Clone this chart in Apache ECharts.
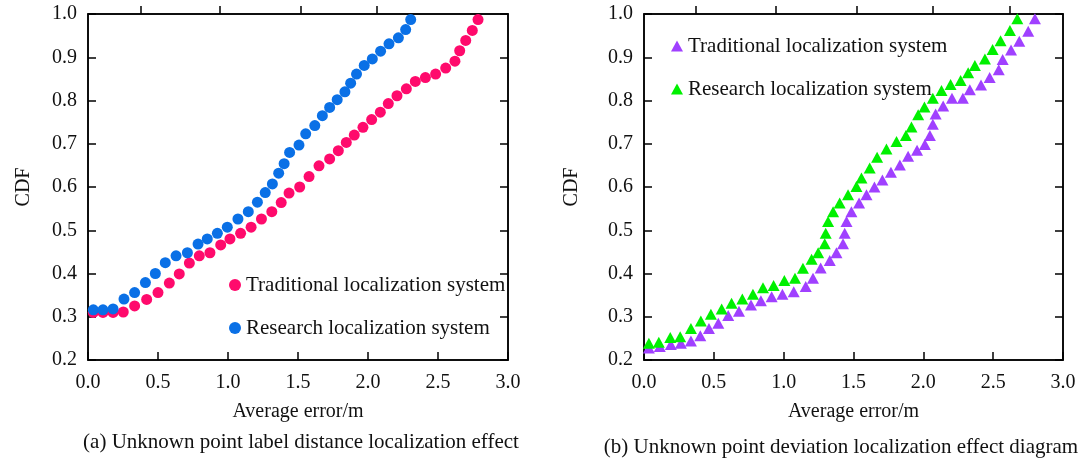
<!DOCTYPE html>
<html><head><meta charset="utf-8">
<script src="https://cdn.jsdelivr.net/npm/echarts@6/dist/echarts.min.js"></script>
<style>html,body{margin:0;padding:0;background:#fff}#c{width:1081px;height:461px}</style>
</head><body><div id="c"></div>
<script>
const xTickLabels = ['0.0','0.5','1.0','1.5','2.0','2.5','3.0'];
const yTickLabels = ['0.2','0.3','0.4','0.5','0.6','0.7','0.8','0.9','1.0'];
const seriesNames = ['Traditional localization system','Research localization system'];
const captions = ['(a) Unknown point label distance localization effect','(b) Unknown point deviation localization effect diagram'];
const xAxisTitle = 'Average error/m';
const yAxisTitle = 'CDF';
const topTicksA = [0.379,0.943,1.521,2.062];
const topTicksB = [0.374,0.941,1.522,2.065,2.617];

const traditionalA = [[0.038,0.31],[0.107,0.31],[0.179,0.31],[0.252,0.311],[0.333,0.325],[0.419,0.34],[0.5,0.356],[0.581,0.378],[0.652,0.399],[0.724,0.424],[0.795,0.441],[0.871,0.448],[0.948,0.466],[1.014,0.48],[1.09,0.493],[1.165,0.507],[1.239,0.526],[1.313,0.543],[1.38,0.564],[1.436,0.586],[1.512,0.6],[1.579,0.624],[1.65,0.649],[1.726,0.665],[1.788,0.684],[1.845,0.703],[1.902,0.72],[1.964,0.738],[2.026,0.756],[2.088,0.773],[2.145,0.793],[2.207,0.811],[2.274,0.827],[2.338,0.844],[2.41,0.853],[2.483,0.861],[2.555,0.875],[2.621,0.891],[2.655,0.915],[2.698,0.939],[2.745,0.962],[2.786,0.987]];
const researchA = [[0.038,0.316],[0.107,0.316],[0.179,0.318],[0.257,0.341],[0.333,0.356],[0.41,0.379],[0.481,0.4],[0.552,0.425],[0.629,0.441],[0.71,0.448],[0.786,0.468],[0.852,0.48],[0.924,0.493],[0.995,0.507],[1.071,0.526],[1.145,0.543],[1.21,0.565],[1.266,0.587],[1.317,0.607],[1.362,0.632],[1.401,0.654],[1.44,0.68],[1.507,0.697],[1.555,0.723],[1.62,0.742],[1.674,0.765],[1.726,0.784],[1.78,0.802],[1.835,0.82],[1.876,0.84],[1.918,0.861],[1.973,0.881],[2.031,0.896],[2.09,0.914],[2.15,0.931],[2.217,0.945],[2.269,0.964],[2.305,0.987]];
const traditionalB = [[0.035,0.228],[0.113,0.231],[0.192,0.236],[0.264,0.239],[0.336,0.244],[0.403,0.256],[0.465,0.273],[0.532,0.285],[0.603,0.303],[0.68,0.313],[0.766,0.327],[0.837,0.337],[0.914,0.346],[0.991,0.352],[1.072,0.358],[1.158,0.37],[1.21,0.389],[1.265,0.413],[1.33,0.43],[1.378,0.448],[1.425,0.469],[1.437,0.493],[1.45,0.52],[1.485,0.543],[1.54,0.563],[1.593,0.582],[1.65,0.6],[1.707,0.616],[1.768,0.634],[1.832,0.651],[1.891,0.671],[1.955,0.685],[2.011,0.698],[2.047,0.719],[2.068,0.745],[2.088,0.769],[2.142,0.787],[2.205,0.805],[2.283,0.805],[2.333,0.825],[2.413,0.836],[2.475,0.853],[2.54,0.871],[2.568,0.895],[2.628,0.917],[2.687,0.937],[2.751,0.96],[2.799,0.989]];
const researchB = [[0.035,0.239],[0.106,0.241],[0.188,0.252],[0.259,0.254],[0.336,0.273],[0.407,0.29],[0.479,0.306],[0.556,0.318],[0.627,0.331],[0.704,0.341],[0.78,0.352],[0.852,0.367],[0.928,0.372],[1.005,0.384],[1.081,0.389],[1.138,0.412],[1.2,0.433],[1.247,0.448],[1.294,0.469],[1.301,0.493],[1.318,0.52],[1.354,0.543],[1.401,0.563],[1.461,0.582],[1.521,0.601],[1.557,0.621],[1.616,0.644],[1.669,0.669],[1.736,0.688],[1.808,0.705],[1.875,0.719],[1.915,0.739],[1.963,0.767],[2.008,0.785],[2.068,0.805],[2.13,0.823],[2.195,0.837],[2.267,0.846],[2.321,0.864],[2.369,0.881],[2.441,0.896],[2.496,0.918],[2.553,0.938],[2.62,0.962],[2.673,0.989]];

const FONT = '"Liberation Serif","Times New Roman",serif';
const TXT = '#111';
const AXC = '#000', AXW = 1.5;
const xMin = +xTickLabels[0], xMax = +xTickLabels[xTickLabels.length-1];
const xStep = Number((+xTickLabels[1] - +xTickLabels[0]).toFixed(3));
const yMin = +yTickLabels[0], yMax = +yTickLabels[yTickLabels.length-1];
const yStep = Number((+yTickLabels[1] - +yTickLabels[0]).toFixed(3));
const ls = () => ({color:AXC, width:AXW});

function bottomX(gi){
  return {type:'value', gridIndex:gi, position:'bottom', min:xMin, max:xMax, interval:xStep,
    name:xAxisTitle, nameLocation:'middle', nameGap:42,
    nameTextStyle:{fontFamily:FONT, fontSize:20, color:TXT},
    axisLine:{show:true, onZero:false, lineStyle:ls()},
    axisTick:{show:true, inside:true, length:8, lineStyle:ls()},
    axisLabel:{show:true, margin:13, fontFamily:FONT, fontSize:20, color:TXT, formatter:v=>v.toFixed(1)},
    splitLine:{show:false}};
}
function topX(gi, ticks){
  return {type:'value', gridIndex:gi, position:'top', min:xMin, max:xMax,
    axisLine:{show:true, onZero:false, lineStyle:ls()},
    axisTick:{show:true, inside:false, length:8, lineStyle:ls(), customValues:ticks},
    axisLabel:{show:false, customValues:ticks},
    splitLine:{show:false}};
}
function leftY(gi, gap){
  return {type:'value', gridIndex:gi, position:'left', min:yMin, max:yMax, interval:yStep,
    name:yAxisTitle, nameLocation:'middle', nameGap:gap,
    nameTextStyle:{fontFamily:FONT, fontSize:20, color:TXT},
    axisLine:{show:true, onZero:false, lineStyle:ls()},
    axisTick:{show:true, inside:true, length:8, lineStyle:ls()},
    axisLabel:{show:true, margin:11, fontFamily:FONT, fontSize:20, color:TXT, formatter:v=>v.toFixed(1)},
    splitLine:{show:false}};
}
function rightY(gi){
  return {type:'value', gridIndex:gi, position:'right', min:yMin, max:yMax, interval:yStep,
    axisLine:{show:true, onZero:false, lineStyle:ls()},
    axisTick:{show:true, inside:true, length:8, lineStyle:ls()},
    axisLabel:{show:false}, splitLine:{show:false}};
}

const colors = {tradA:'#ff0a6c', resA:'#0a70e6', tradB:'#a040ff', resB:'#00f000'};

const chart = echarts.init(document.getElementById('c'), null, {renderer:'canvas'});
chart.setOption({
  backgroundColor:'#fff',
  animation:false,
  grid:[
    {left:88, top:14, width:420, height:346, show:true, borderColor:AXC, borderWidth:AXW, backgroundColor:'transparent'},
    {left:644, top:14, width:419, height:346, show:true, borderColor:AXC, borderWidth:AXW, backgroundColor:'transparent'}
  ],
  xAxis:[bottomX(0), topX(0, topTicksA), bottomX(1), topX(1, topTicksB)],
  yAxis:[leftY(0, 54), rightY(0), leftY(1, 62), rightY(1)],
  legend:[
    {orient:'vertical', left:224, top:269, itemWidth:12, itemHeight:12, itemGap:21, selectedMode:false,
     textStyle:{fontFamily:FONT, fontSize:21, color:TXT, lineHeight:22},
     data:[{name:seriesNames[0], icon:'circle', itemStyle:{color:colors.tradA}},
           {name:seriesNames[1], icon:'circle', itemStyle:{color:colors.resA}}]},
    {orient:'vertical', left:666, top:30, itemWidth:12, itemHeight:11, itemGap:21, selectedMode:false,
     textStyle:{fontFamily:FONT, fontSize:21, color:TXT, lineHeight:22},
     data:[{name:seriesNames[0], icon:'triangle', itemStyle:{color:colors.tradB}},
           {name:seriesNames[1], icon:'triangle', itemStyle:{color:colors.resB}}]}
  ],
  series:[
    {type:'scatter', name:seriesNames[0], xAxisIndex:0, yAxisIndex:0, symbol:'circle', symbolSize:11,
     itemStyle:{color:colors.tradA, opacity:1}, data:traditionalA, z:3},
    {type:'scatter', name:seriesNames[1], xAxisIndex:0, yAxisIndex:0, symbol:'circle', symbolSize:11,
     itemStyle:{color:colors.resA, opacity:1}, data:researchA, z:4},
    {type:'scatter', name:seriesNames[0], xAxisIndex:2, yAxisIndex:2, symbol:'triangle', symbolSize:[12,11],
     itemStyle:{color:colors.tradB, opacity:1}, data:traditionalB, z:3},
    {type:'scatter', name:seriesNames[1], xAxisIndex:2, yAxisIndex:2, symbol:'triangle', symbolSize:[12,11],
     itemStyle:{color:colors.resB, opacity:1}, data:researchB, z:4}
  ],
  graphic:[
    {type:'text', x:301, y:442, style:{text:captions[0], font:'21px '+FONT, fill:TXT, align:'center', verticalAlign:'middle'}},
    {type:'text', x:841, y:447, style:{text:captions[1], font:'21px '+FONT, fill:TXT, align:'center', verticalAlign:'middle'}}
  ]
});
</script></body></html>
